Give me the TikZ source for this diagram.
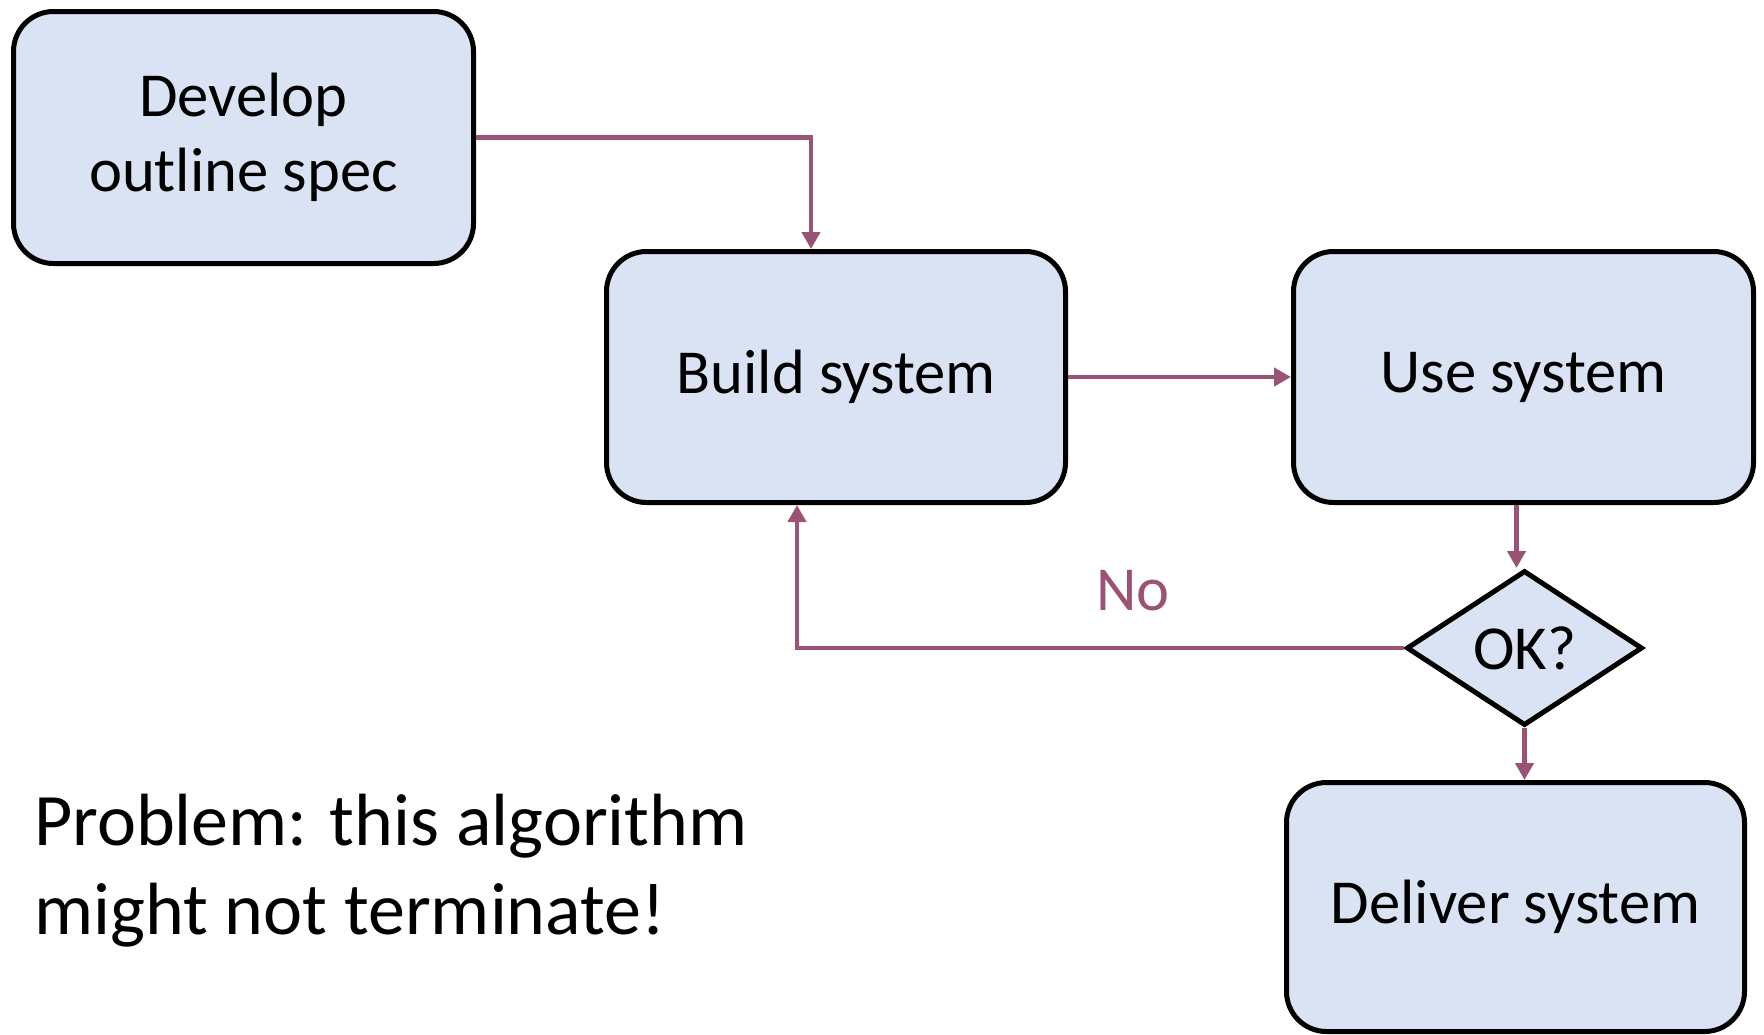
\documentclass[tikz,border=0pt]{standalone}
\usepackage{fontspec}
\setmainfont{Carlito}
\usetikzlibrary{shapes.geometric,arrows.meta}
\definecolor{boxfill}{RGB}{218,227,243}
\definecolor{plum}{RGB}{154,82,117}
\tikzset{
  stepbox/.style={draw=black, line width=5pt, fill=boxfill, rounded corners=40pt,
    align=center, inner sep=0pt, font=\fontsize{62.6}{75}\selectfont},
  decision/.style={draw=black, line width=5pt, fill=boxfill, diamond, inner sep=0pt,
    font=\fontsize{62.6}{75}\selectfont},
  conn/.style={draw=plum, line width=4.5pt, -{Triangle[length=17pt,width=18pt]}},
}
\begin{document}
\begin{tikzpicture}[x=1pt,y=-1pt]
\useasboundingbox (0,0) rectangle (1764,1034);
\node[stepbox, minimum width=460pt, minimum height=252pt] (dev) at (243.5,137.5) {Develop\\outline spec};
\node[stepbox, minimum width=459pt, minimum height=251pt] (build) at (836,377) {Build system};
\node[stepbox, minimum width=460pt, minimum height=251pt] (use) at (1523.5,377) {Use system};
\node[stepbox, minimum width=458pt, minimum height=249pt] (deliver) at (1515.5,907) {Deliver system};
\node[decision, minimum width=236pt, minimum height=155pt] (ok) at (1524.5,648) {OK?};
\draw[conn] (dev.east) -| ([xshift=-25pt]build.north);
\draw[conn] (build.east) -- (use.west);
\draw[conn] ([xshift=-7pt]use.south) -- ([xshift=-7pt]use.south |- ok.north);
\draw[conn] (ok.south) -- (ok.south |- deliver.north);
\draw[conn] (ok.west) -| ([xshift=-39pt]build.south);
\node[text=plum, font=\fontsize{62.6}{75}\selectfont] (no) at (1133,591) {No};
\node[anchor=base west, align=left, inner sep=0pt, font=\fontsize{74}{88.5}\selectfont] (problem) at (34,934) {Problem: this algorithm\\might not terminate!};
\end{tikzpicture}
\end{document}
